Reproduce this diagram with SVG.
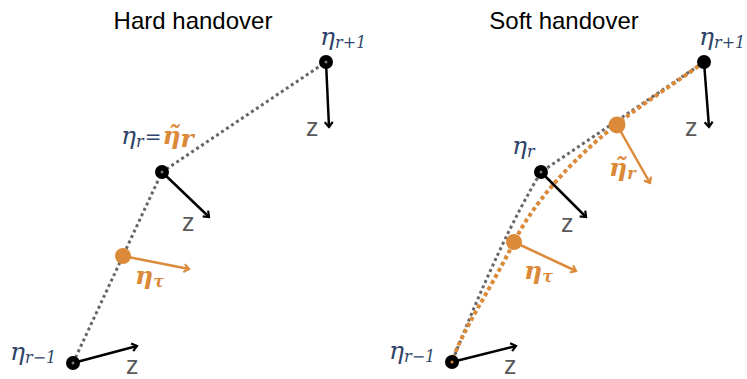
<svg xmlns="http://www.w3.org/2000/svg" width="747" height="379" viewBox="0 0 747 379">
<defs>
<marker id="ah" markerWidth="10" markerHeight="10" refX="7" refY="5" orient="auto" markerUnits="userSpaceOnUse">
<path d="M2,1 L7,5 L2,9" fill="none" stroke="#000" stroke-width="2.2"/>
</marker>
<marker id="aho" markerWidth="10" markerHeight="10" refX="7" refY="5" orient="auto" markerUnits="userSpaceOnUse">
<path d="M2,1 L7,5 L2,9" fill="none" stroke="#DB8A3A" stroke-width="2.2"/>
</marker>
<style>
.title{font-family:"Liberation Sans",Arial,sans-serif;font-size:24px;fill:#000}
.z{font-family:"Liberation Sans",Arial,sans-serif;font-size:25px;fill:#5a5a5a}
.eta{font-family:"DejaVu Serif","Liberation Serif",serif;font-style:italic;font-size:25px;fill:#2F4468}
.sub{font-size:16px}
.etao{font-family:"DejaVu Serif","Liberation Serif",serif;font-style:italic;font-weight:bold;font-size:25px;fill:#DB8A3A}
.eq{font-family:"DejaVu Serif",serif;font-size:20px;fill:#2F4468}
.gd{fill:none;stroke:#666;stroke-width:3;stroke-dasharray:3 3}
.od{fill:none;stroke:#DB8A3A;stroke-width:4;stroke-dasharray:4 3}
.ar{stroke:#000;stroke-width:2.5;marker-end:url(#ah)}
.aro{stroke:#DB8A3A;stroke-width:2.5;marker-end:url(#aho)}
.nd{fill:#000}
.no{fill:#DB8A3A}
</style>
</defs>

<text class="title" x="193" y="29" text-anchor="middle">Hard handover</text>
<text class="title" x="564" y="29" text-anchor="middle">Soft handover</text>

<g id="connectors">
<path class="gd" d="M73,363 L162,172 L326,62"/>
<path class="gd" d="M704,62 L541,172 Q500,240 452,362"/>
<path class="od" d="M704,62 C680,80 645,102 617,124 S540,190 514,242 S462,330 452,362"/>
<line class="ar" x1="326" y1="62" x2="329" y2="127"/>
<line class="ar" x1="162" y1="172" x2="209" y2="217"/>
<line class="ar" x1="73" y1="363" x2="137" y2="346"/>
<line class="aro" x1="123" y1="256" x2="189" y2="269"/>
<line class="ar" x1="704" y1="62" x2="709" y2="127"/>
<line class="ar" x1="541" y1="172" x2="586" y2="217"/>
<line class="ar" x1="452" y1="362" x2="516" y2="346"/>
<line class="aro" x1="617" y1="125" x2="650" y2="183"/>
<line class="aro" x1="514" y1="242" x2="576" y2="271"/>
</g>

<g id="hard-eta-r1">
<circle class="nd" cx="326" cy="62" r="7"/>
<circle cx="326" cy="62" r="1.5" fill="#777"/>
<text class="eta" x="320" y="45">η<tspan class="sub" dy="3">r+1</tspan></text>
<text class="z" x="306" y="136">z</text>
</g>
<g id="hard-eta-r">
<circle class="nd" cx="162" cy="172" r="7"/>
<circle cx="162" cy="172" r="1.5" fill="#777"/>
<text x="121" y="144"><tspan class="eta">η</tspan><tspan class="eta sub" dy="3">r</tspan><tspan class="eq" dy="-3" dx="1">=</tspan><tspan class="etao" dx="1">η̃</tspan><tspan class="etao sub" dy="3">r</tspan></text>
<text class="z" x="182" y="231">z</text>
</g>
<g id="hard-eta-tau">
<circle class="no" cx="123" cy="256" r="8"/>
<text class="etao" x="135" y="284">η<tspan class="sub" dy="3">τ</tspan></text>
</g>
<g id="hard-eta-rm1">
<circle class="nd" cx="73" cy="363" r="7"/>
<circle cx="73" cy="363" r="1.5" fill="#777"/>
<text class="eta" x="10" y="360">η<tspan class="sub" dy="3">r−1</tspan></text>
<text class="z" x="126" y="374">z</text>
</g>

<g id="soft-eta-r1">
<circle class="nd" cx="704" cy="62" r="7"/>
<text class="eta" x="699" y="45">η<tspan class="sub" dy="3">r+1</tspan></text>
<text class="z" x="685" y="136">z</text>
</g>
<g id="soft-eta-r">
<circle class="nd" cx="541" cy="172" r="7"/>
<circle cx="541" cy="172" r="1.5" fill="#777"/>
<text class="eta" x="512" y="154">η<tspan class="sub" dy="3">r</tspan></text>
<text class="z" x="561" y="232">z</text>
</g>
<g id="soft-eta-tilde">
<circle class="no" cx="617" cy="125" r="8.5"/>
<text class="etao" x="609" y="176">η̃<tspan class="sub" dy="3">r</tspan></text>
</g>
<g id="soft-eta-tau">
<circle class="no" cx="514" cy="242" r="8"/>
<text class="etao" x="524" y="279">η<tspan class="sub" dy="3">τ</tspan></text>
</g>
<g id="soft-eta-rm1">
<circle class="nd" cx="452" cy="362" r="7"/>
<circle cx="452" cy="362" r="1.5" fill="#DB8A3A"/>
<text class="eta" x="389" y="359">η<tspan class="sub" dy="3">r−1</tspan></text>
<text class="z" x="504" y="374">z</text>
</g>
</svg>
